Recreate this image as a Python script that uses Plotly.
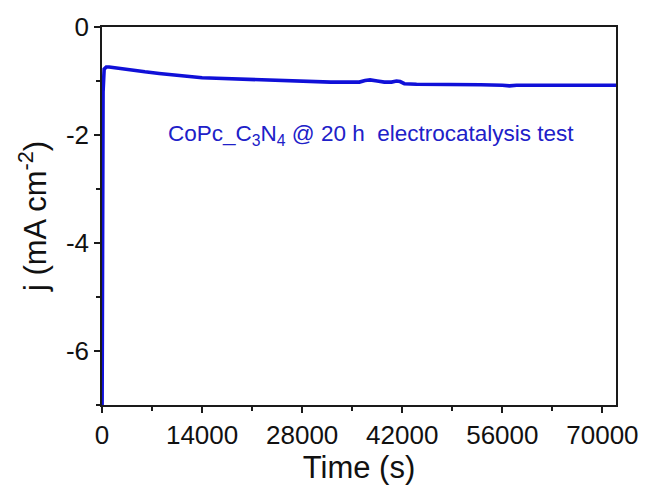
import plotly.graph_objects as go

time_s = [0, 60, 150, 300, 600, 1000, 2000, 4000, 6000, 8000, 10000, 12000,
          14000, 16000, 18000, 20000, 22000, 24000, 26000, 28000, 30000, 32000,
          34000, 36000, 36800, 37500, 38500, 39500, 40500, 41200, 41700, 42300,
          44000, 47000, 50000, 53000, 56000, 57000, 58000, 61000, 64000, 67000,
          70000, 71900]
current = [-7.6, -3.5, -1.2, -0.78, -0.74, -0.74, -0.76, -0.79, -0.83, -0.86,
           -0.89, -0.92, -0.94, -0.95, -0.96, -0.97, -0.98, -0.99, -1.00, -1.01,
           -1.01, -1.02, -1.02, -1.02, -0.99, -0.98, -1.00, -1.02, -1.02, -1.00,
           -1.01, -1.05, -1.06, -1.06, -1.06, -1.07, -1.08, -1.09, -1.08, -1.08,
           -1.08, -1.08, -1.08, -1.08]

x_ticks = [0, 14000, 28000, 42000, 56000, 70000]
y_ticks = [0, -2, -4, -6]
label_text = "CoPc_C<sub>3</sub>N<sub>4</sub> @ 20 h  electrocatalysis test"

fig = go.Figure()
fig.add_trace(go.Scatter(x=time_s, y=current, mode="lines",
                         line=dict(color="#1010d8", width=3.6), showlegend=False))

axis_common = dict(showline=True, linecolor="#1a1a1a", linewidth=1.5, mirror=True,
                   ticks="outside", ticklen=6, tickwidth=1.5, tickcolor="#1a1a1a",
                   showgrid=False, zeroline=False,
                   tickfont=dict(family="Liberation Sans, Arial", size=26, color="#111"))

fig.update_xaxes(range=[0, 71900], tickvals=x_ticks,
                 ticktext=[str(v) for v in x_ticks],
                 minor=dict(dtick=7000, tick0=0, ticks="outside", ticklen=4,
                            tickwidth=1.5, tickcolor="#1a1a1a", showgrid=False),
                 title=dict(text="Time (s)", standoff=6,
                            font=dict(family="Liberation Sans, Arial", size=31, color="#111")),
                 **axis_common)
fig.update_yaxes(range=[-7, 0], tickvals=y_ticks,
                 ticktext=[str(v) for v in y_ticks],
                 minor=dict(dtick=1, tick0=0, ticks="outside", ticklen=4,
                            tickwidth=1.5, tickcolor="#1a1a1a", showgrid=False),
                 title=dict(text="j (mA cm<sup>-2</sup>)", standoff=10,
                            font=dict(family="Liberation Sans, Arial", size=31, color="#111")),
                 **axis_common)

fig.add_annotation(x=8950, y=-2.0, xref="x", yref="y", text=label_text,
                   showarrow=False, xanchor="left", yanchor="middle",
                   font=dict(family="Liberation Sans, Arial", size=22.5, color="#2020c8"))

fig.update_layout(width=650, height=490, margin=dict(l=102, r=28, t=26, b=83),
                  paper_bgcolor="white", plot_bgcolor="white")

fig.write_html("out.html")
